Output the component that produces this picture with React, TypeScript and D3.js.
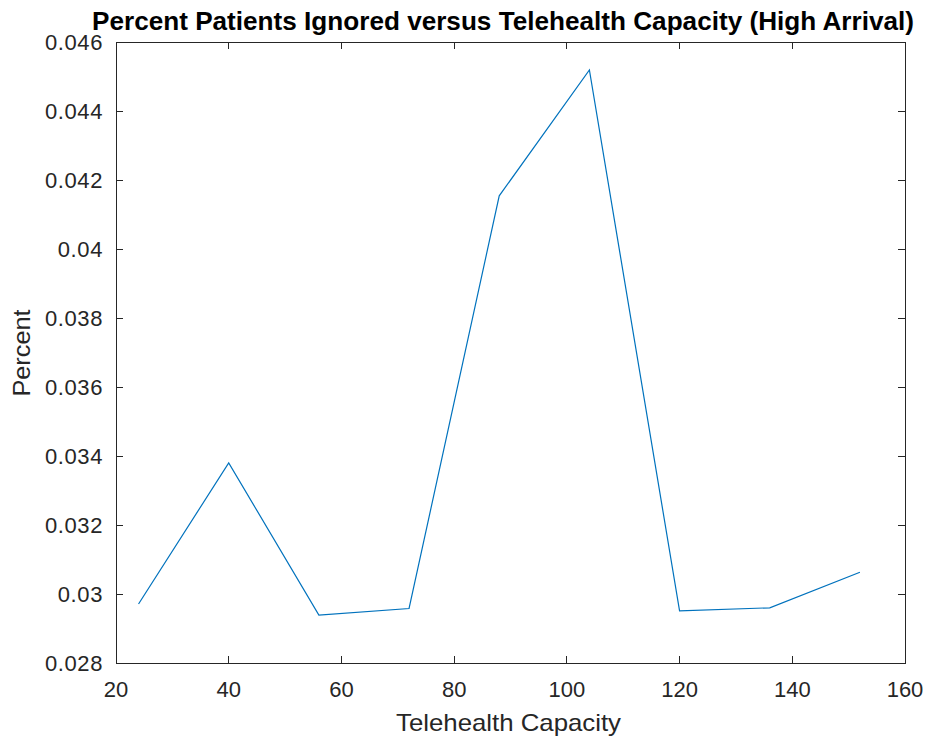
import React from "react";
import * as d3 from "d3";

const capacity = [24, 40, 56, 72, 88, 104, 120, 136, 152];
const percentIgnored = [0.02971, 0.0338, 0.02939, 0.02958, 0.04154, 0.04519, 0.02951, 0.0296, 0.03063];
const xTicks = [20, 40, 60, 80, 100, 120, 140, 160];
const yTicks = [0.028, 0.03, 0.032, 0.034, 0.036, 0.038, 0.04, 0.042, 0.044, 0.046];
const titleText = "Percent Patients Ignored versus Telehealth Capacity (High Arrival)";
const xLabel = "Telehealth Capacity";
const yLabel = "Percent";

export default function App() {
  const W = 927, H = 742;
  const L = 116, R = 905, T = 42, B = 663;
  const x = d3.scaleLinear().domain([20, 160]).range([L, R]);
  const y = d3.scaleLinear().domain([0.028, 0.046]).range([B, T]);
  const line = d3.line<number>().x((_, i) => x(capacity[i])).y((d) => y(d));
  const axisColor = "#262626";
  const font = "'Liberation Sans', Arial, Helvetica, sans-serif";
  const tl = 7;
  const fmtY = (v: number) => String(+v.toFixed(3));
  return (
    <svg width={W} height={H} style={{ position: "absolute", left: 0, top: 0, background: "#fff" }}>
      <rect x={0} y={0} width={W} height={H} fill="#fff" />
      <g stroke={axisColor} strokeWidth={1} fill="none" shapeRendering="crispEdges">
        <rect x={L} y={T} width={R - L} height={B - T} />
        {xTicks.map((t) => (
          <g key={"xt" + t}>
            <line x1={x(t)} x2={x(t)} y1={B} y2={B - tl} />
            <line x1={x(t)} x2={x(t)} y1={T} y2={T + tl} />
          </g>
        ))}
        {yTicks.map((t) => (
          <g key={"yt" + t}>
            <line x1={L} x2={L + tl} y1={y(t)} y2={y(t)} />
            <line x1={R} x2={R - tl} y1={y(t)} y2={y(t)} />
          </g>
        ))}
      </g>
      <path d={line(percentIgnored) || ""} fill="none" stroke="#0072BD" strokeWidth={1.2} />
      <g fontFamily={font} fontSize={22} fill={axisColor}>
        {xTicks.map((t) => (
          <text key={"xl" + t} x={x(t)} y={697} textAnchor="middle">{t}</text>
        ))}
        {yTicks.map((t) => (
          <text key={"yl" + t} x={103} y={y(t)} dy="0.35em" textAnchor="end" letterSpacing={0.6}>{fmtY(t)}</text>
        ))}
        <text x={396} y={731} fontSize={24} textLength={225} lengthAdjust="spacingAndGlyphs">{xLabel}</text>
        <text transform={`translate(29.5, 353) rotate(-90)`} textAnchor="middle" fontSize={24} textLength={87} lengthAdjust="spacingAndGlyphs">{yLabel}</text>
      </g>
      <text x={92} y={30} fontFamily={font} fontWeight="bold" fontSize={25} fill="#000" textLength={822} lengthAdjust="spacingAndGlyphs">{titleText}</text>
    </svg>
  );
}
